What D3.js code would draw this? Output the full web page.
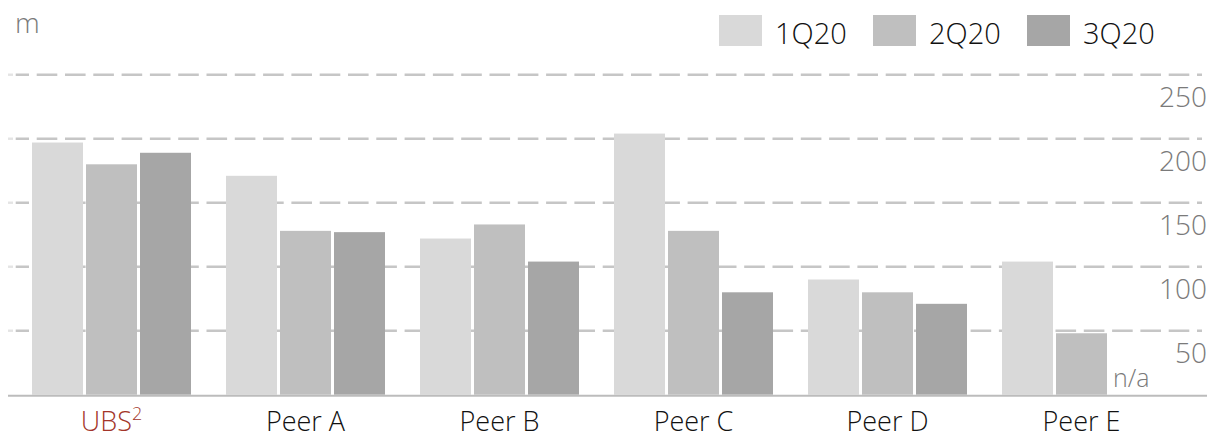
<!DOCTYPE html>
<html>
<head>
<meta charset="utf-8">
<script src="https://cdn.jsdelivr.net/npm/d3@7"></script>
<style>
  html, body { margin: 0; padding: 0; background: #fff; }
  svg { display: block; font-family: "Open Sans", "Noto Sans", sans-serif; }
</style>
</head>
<body>
<svg id="chart" width="1212" height="439"></svg>
<script>
const categories = ["UBS", "Peer A", "Peer B", "Peer C", "Peer D", "Peer E"];
const seriesNames = ["1Q20", "2Q20", "3Q20"];
const q1 = [197, 171, 122, 204, 90, 104];
const q2 = [180, 128, 133, 128, 80, 48];
const q3 = [189, 127, 104, 80, 71, null];
const yTicks = [50, 100, 150, 200, 250];
const colors = ["#d9d9d9", "#bfbfbf", "#a6a6a6"];
const unitLabel = "m";
const naLabel = "n/a";

const svg = d3.select("#chart");

const y = d3.scaleLinear().domain([0, 250]).range([394.7, 74.7]);
const x0 = d3.scaleBand().domain(categories).range([32, 32 + 6 * 194 - 35]).paddingInner(35 / 194).paddingOuter(0);
const x1 = d3.scaleBand().domain(seriesNames).range([0, x0.bandwidth()]).paddingInner(3 / 54).paddingOuter(0);

const seriesVals = [q1, q2, q3];
const rows = categories.map((c, i) => ({ cat: c, vals: seriesNames.map((s, j) => ({ s, v: seriesVals[j][i], j })) }));

// gridlines
const grid = svg.append("g");
yTicks.forEach(t => {
  grid.append("line")
    .attr("x1", 15.7).attr("x2", 1202)
    .attr("y1", y(t)).attr("y2", y(t))
    .attr("stroke", "#c6c6c6").attr("stroke-width", 2.4)
    .attr("stroke-dasharray", "20.6,7.7").attr("stroke-dashoffset", 7.3);
  grid.append("line")
    .attr("x1", 8).attr("x2", 13)
    .attr("y1", y(t)).attr("y2", y(t))
    .attr("stroke", "#e4e4e4").attr("stroke-width", 2.4);
});

// y labels on right
svg.append("g").selectAll("text").data(yTicks).join("text")
  .attr("x", 1207).attr("y", d => y(d) + 32)
  .attr("text-anchor", "end")
  .attr("font-size", 28).attr("font-weight", 300).attr("fill", "#7a7a7a")
  .text(d => d);

// bars
const groups = svg.append("g").selectAll("g").data(rows).join("g")
  .attr("transform", d => `translate(${x0(d.cat)},0)`);
groups.selectAll("rect").data(d => d.vals.filter(v => v.v != null)).join("rect")
  .attr("x", d => x1(d.s))
  .attr("width", x1.bandwidth())
  .attr("y", d => y(d.v))
  .attr("height", d => y(0) - y(d.v))
  .attr("fill", d => colors[d.j]);

// n/a labels
groups.selectAll("text.na").data(d => d.vals.filter(v => v.v == null)).join("text")
  .attr("class", "na")
  .attr("x", d => x1(d.s) + 3)
  .attr("y", 387)
  .attr("font-size", 25).attr("font-weight", 300).attr("fill", "#7a7a7a")
  .text(naLabel);

// baseline
svg.append("line")
  .attr("x1", 8).attr("x2", 1207)
  .attr("y1", y(0) + 1).attr("y2", y(0) + 1)
  .attr("stroke", "#bcbcbc").attr("stroke-width", 2);

// category labels
const xl = svg.append("g");
categories.forEach((c, i) => {
  const cx = x0(c) + x0.bandwidth() / 2;
  const t = xl.append("text")
    .attr("x", cx).attr("y", 431)
    .attr("text-anchor", "middle")
    .attr("font-size", 27).attr("font-weight", 300)
    .attr("fill", i === 0 ? "#a3352a" : "#111");
  if (i === 0) {
    t.append("tspan").text(c);
    t.append("tspan").attr("font-size", 18).attr("dy", -11).text("2");
  } else {
    t.text(c);
  }
});

// unit label
svg.append("text").attr("x", 15).attr("y", 33)
  .attr("font-size", 28).attr("font-weight", 300).attr("fill", "#7a7a7a").text(unitLabel);

// legend
const lg = svg.append("g");
seriesNames.forEach((s, j) => {
  const lx = 719 + j * 154;
  lg.append("rect").attr("x", lx).attr("y", 15).attr("width", 43).attr("height", 31).attr("fill", colors[j]);
  lg.append("text").attr("x", lx + 56).attr("y", 44).attr("font-size", 29).attr("font-weight", 300).attr("fill", "#111").text(s);
});
</script>
</body>
</html>
